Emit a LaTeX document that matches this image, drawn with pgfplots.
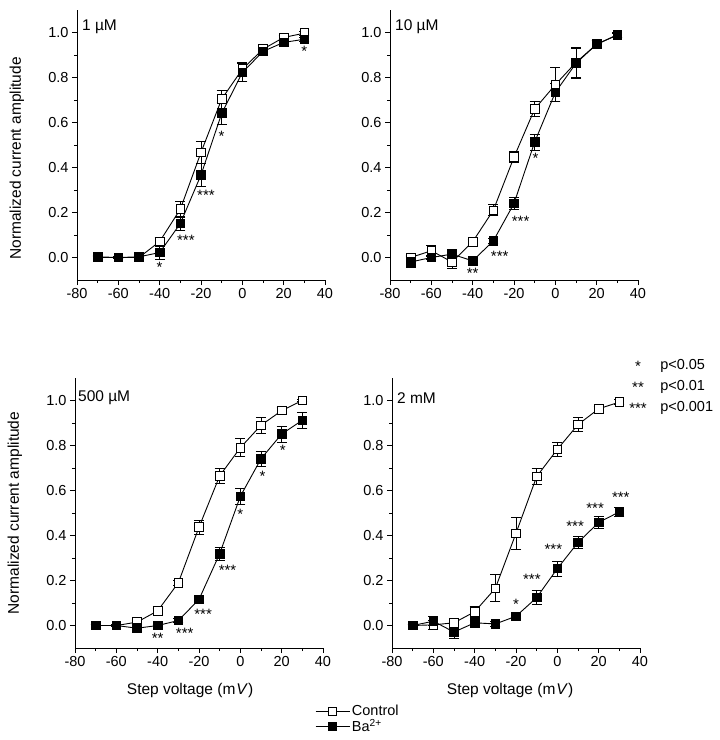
\documentclass[border=0pt]{standalone}
\usepackage{pgfplots}
\pgfplotsset{compat=1.18}
\usepackage{pgfplotstable}
\usepackage{fontspec}
\setmainfont{Liberation Sans}

\pgfplotstableread{
x y e
-70 0.0 0.005
-60 0.0 0.005
-50 0.0 0.005
-40 0.071 0.02
-30 0.215 0.035
-20 0.467 0.05
-10 0.704 0.04
0 0.837 0.03
10 0.926 0.015
20 0.978 0.01
30 0.997 0.01
}\ctlA
\pgfplotstableread{
x y e
-70 0.003 0.005
-60 0.0 0.005
-50 0.003 0.005
-40 0.022 0.03
-30 0.151 0.03
-20 0.367 0.05
-10 0.640 0.05
0 0.822 0.04
10 0.916 0.015
20 0.956 0.01
30 0.970 0.01
}\baA
\pgfplotstableread{
x y e
-70 0.0 0.01
-60 0.03 0.025
-50 -0.02 0.03
-40 0.07 0.01
-30 0.21 0.025
-20 0.446 0.025
-10 0.66 0.035
0 0.768 0.075
10 0.867 0.065
20 0.948 0.015
30 0.99 0.01
}\ctlB
\pgfplotstableread{
x y e
-70 -0.02 0.025
-60 0.0 0.01
-50 0.015 0.02
-40 -0.015 0.01
-30 0.074 0.01
-20 0.24 0.025
-10 0.513 0.035
0 0.734 0.04
10 0.863 0.065
20 0.948 0.015
30 0.988 0.01
}\baB
\pgfplotstableread{
x y e
-70 0 0.005
-60 0 0.005
-50 0.015 0.01
-40 0.065 0.01
-30 0.19 0.01
-20 0.437 0.03
-10 0.665 0.035
0 0.79 0.04
10 0.89 0.035
20 0.955 0.015
30 1.0 0.005
}\ctlC
\pgfplotstableread{
x y e
-70 0 0.005
-60 0 0.005
-50 -0.012 0.015
-40 0.0 0.005
-30 0.022 0.01
-20 0.116 0.015
-10 0.319 0.03
0 0.574 0.035
10 0.741 0.035
20 0.851 0.035
30 0.912 0.035
}\baC
\pgfplotstableread{
x y e
-70 0 0.005
-60 0.003 0.02
-50 0.012 0.01
-40 0.061 0.025
-30 0.165 0.06
-20 0.41 0.07
-10 0.662 0.035
0 0.783 0.03
10 0.893 0.03
20 0.963 0.01
30 0.993 0.01
}\ctlD
\pgfplotstableread{
x y e
-70 0 0.005
-60 0.019 0.02
-50 -0.029 0.03
-40 0.012 0.01
-30 0.007 0.01
-20 0.041 0.01
-10 0.124 0.03
0 0.253 0.033
10 0.369 0.025
20 0.458 0.025
30 0.505 0.02
}\baD

\pgfplotsset{
  panel/.style={
    scale only axis, width=248pt, height=270pt,
    xmin=-80, xmax=40, ymin=-0.1, ymax=1.1,
    axis lines=left, axis line style={-, line width=0.9pt},
    xtick={-80,-60,...,40}, ytick={0,0.2,0.4,0.6,0.8,1.0},
    minor x tick num=1, minor y tick num=1,
    tick align=outside, major tick length=5pt, minor tick length=3pt,
    tick style={black, line width=0.8pt},
    yticklabel style={/pgf/number format/.cd, fixed, fixed zerofill, precision=1},
    /pgf/number format/assume math mode=true,
    ticklabel style={font=\fontsize{14.5}{16}\selectfont},
    label style={font=\fontsize{15.5}{17}\selectfont},
    clip=false,
  },
  ctl/.style={black, line width=0.9pt, mark=square*, mark size=4.3pt,
    mark options={fill=white, line width=0.9pt, solid},
    error bars/.cd, y dir=both, y explicit,
    error bar style={line width=0.8pt, black},
    error mark options={rotate=90, mark size=5pt, line width=0.8pt, black}},
  ba/.style={black, line width=0.9pt, mark=square*, mark size=4.3pt,
    mark options={fill=black, solid},
    error bars/.cd, y dir=both, y explicit,
    error bar style={line width=0.8pt, black},
    error mark options={rotate=90, mark size=5pt, line width=0.8pt, black}},
}
\tikzset{
  star/.style={font=\fontsize{15}{16}\selectfont, inner sep=0pt},
  plab/.style={font=\fontsize{15.5}{17}\selectfont, anchor=west, inner sep=0pt},
}

\begin{document}
\begin{tikzpicture}
\useasboundingbox (0,0) rectangle (720pt,-740pt);

% Panel 1
\begin{axis}[panel, at={(77pt,-280pt)}, anchor=south west,
  ylabel={Normalized current amplitude},
  ylabel style={at={(axis description cs:-0.242,0.45)}, anchor=center}]
\addplot+[ctl] table[x=x, y=y, y error=e] {\ctlA};
\addplot+[ba] table[x=x, y=y, y error=e] {\baA};
\node[plab] at (axis description cs:0.02,0.937) {1 µM};
\node[star] at (axis cs:-40,-0.045) {*};
\node[star] at (axis cs:-27.3,0.077) {***};
\node[star] at (axis cs:-17.6,0.277) {***};
\node[star] at (axis cs:-10,0.54) {*};
\node[star] at (axis cs:30,0.918) {*};
\end{axis}

% Panel 2
\begin{axis}[panel, at={(390pt,-280pt)}, anchor=south west]
\addplot+[ctl] table[x=x, y=y, y error=e] {\ctlB};
\addplot+[ba] table[x=x, y=y, y error=e] {\baB};
\node[plab] at (axis description cs:0.02,0.937) {10 µM};
\node[star] at (axis cs:-40,-0.07) {**};
\node[star] at (axis cs:-26.9,0.007) {***};
\node[star] at (axis cs:-16.8,0.16) {***};
\node[star] at (axis cs:-9.6,0.44) {*};
\end{axis}

% Panel 3
\begin{axis}[panel, at={(75pt,-648pt)}, anchor=south west,
  ylabel={Normalized current amplitude},
  ylabel style={at={(axis description cs:-0.242,0.50)}, anchor=center},
  xlabel={Step voltage (m\kern1pt\textit{V})},
  xlabel style={at={(axis description cs:0.464,-0.156)}, anchor=center},
  legend style={draw=none, fill=none, at={(axis description cs:0.968,-0.205)},
    anchor=north west, font=\fontsize{14.5}{16}\selectfont, row sep=-2pt,
    inner sep=0pt, outer sep=0pt},
  legend cell align=left,
  legend image code/.code={\draw[mark repeat=2,mark phase=2]
     plot coordinates {(0pt,0pt) (17pt,0pt) (34pt,0pt)};}]
\addplot+[ctl] table[x=x, y=y, y error=e] {\ctlC};
\addplot+[ba] table[x=x, y=y, y error=e] {\baC};
\legend{Control, Ba\textsuperscript{2+}}
\node[plab] at (axis description cs:0.012,0.926) {500 µM};
\node[star] at (axis cs:-40,-0.056) {**};
\node[star] at (axis cs:-26.9,-0.037) {***};
\node[star] at (axis cs:-18,0.05) {***};
\node[star] at (axis cs:-6.2,0.243) {***};
\node[star] at (axis cs:0,0.496) {*};
\node[star] at (axis cs:10.7,0.665) {*};
\node[star] at (axis cs:20.6,0.778) {*};
\end{axis}

% Panel 4
\begin{axis}[panel, at={(392pt,-648pt)}, anchor=south west,
  xlabel={Step voltage (m\kern1pt\textit{V})},
  xlabel style={at={(axis description cs:0.476,-0.156)}, anchor=center}]
\addplot+[ctl] table[x=x, y=y, y error=e] {\ctlD};
\addplot+[ba] table[x=x, y=y, y error=e] {\baD};
\node[plab] at (axis description cs:0.02,0.926) {2 mM};
\node[star] at (axis cs:-20,0.092) {*};
\node[star] at (axis cs:-12.3,0.205) {***};
\node[star] at (axis cs:-1.9,0.337) {***};
\node[star] at (axis cs:8.6,0.44) {***};
\node[star] at (axis cs:18.3,0.52) {***};
\node[star] at (axis cs:30.7,0.568) {***};
% significance key
\node[star] at (axis description cs:0.992,1.044) {*};
\node[star] at (axis description cs:0.992,0.967) {**};
\node[star] at (axis description cs:0.992,0.889) {***};
\node[plab, font=\fontsize{14.5}{16}\selectfont] at (axis description cs:1.081,1.044) {p<0.05};
\node[plab, font=\fontsize{14.5}{16}\selectfont] at (axis description cs:1.081,0.967) {p<0.01};
\node[plab, font=\fontsize{14.5}{16}\selectfont] at (axis description cs:1.081,0.889) {p<0.001};
\end{axis}
\end{tikzpicture}
\end{document}
